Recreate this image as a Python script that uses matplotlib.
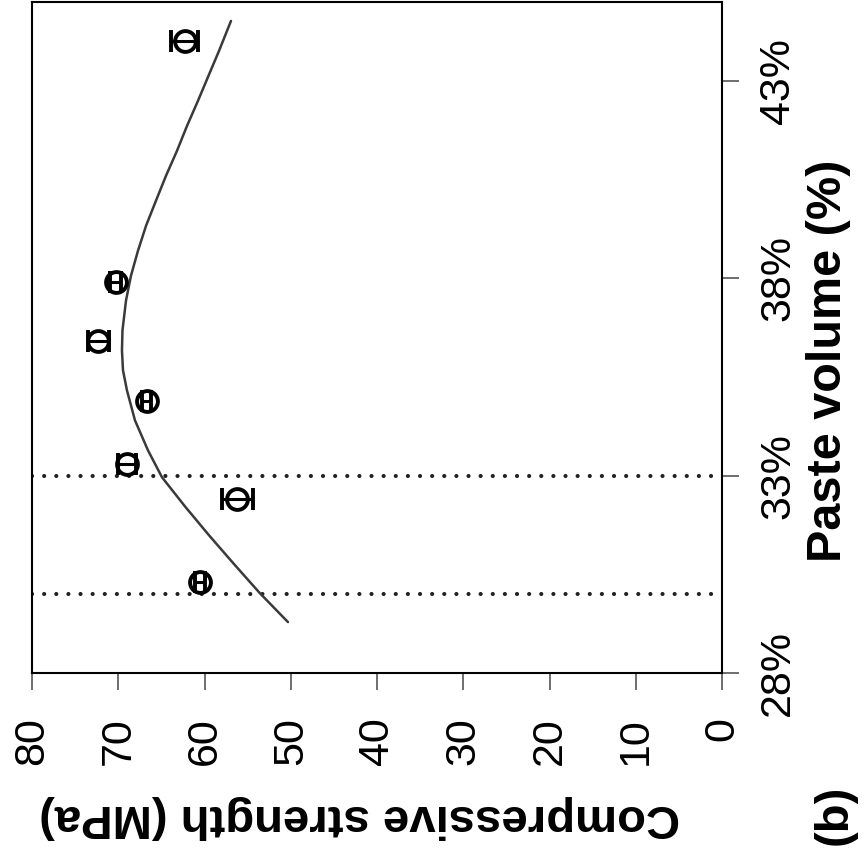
import matplotlib
matplotlib.use('Agg')
import matplotlib.pyplot as plt

plt.rcParams['font.family'] = ['Liberation Sans', 'DejaVu Sans']

# measured mixes: paste volume (%) vs compressive strength (MPa)
paste = [30.3, 32.4, 33.3, 34.9, 36.4, 37.9, 44.0]
strength = [60.5, 56.2, 69.0, 66.7, 72.3, 70.3, 62.3]
strength_err = [0.6, 1.8, 1.0, 0.5, 1.2, 0.6, 1.6]

# fitted trend
fit_paste = [29.29, 30.02, 30.76, 31.49, 32.22, 32.96, 33.64, 34.40, 35.16, 35.67,
             36.17, 36.68, 37.44, 38.07, 38.70, 39.33, 39.97, 40.60, 41.23, 41.86,
             42.50, 43.13, 43.76, 44.52]
fit_strength = [50.32, 53.57, 56.58, 59.48, 62.26, 64.93, 66.55, 68.06, 68.99, 69.45,
                69.57, 69.51, 69.10, 68.52, 67.71, 66.78, 65.62, 64.46, 63.19, 62.03,
                60.75, 59.54, 58.32, 56.93]

# reference paste volumes
ref_lines = [30, 33]

strength_ticks = [0, 10, 20, 30, 40, 50, 60, 70, 80]
paste_ticks = [28, 33, 38, 43]

fig = plt.figure(figsize=(8.67, 8.61), dpi=100)
ax = fig.add_axes([32 / 867, 188 / 861, 690 / 867, 671 / 861])

for p in ref_lines:
    ax.axhline(p, color='#222222', lw=3.0, ls=(0, (0.01, 2.9)), dash_capstyle='round')

ax.plot(fit_strength, fit_paste, color='#3a3a3a', lw=1.8, solid_capstyle='round')

ax.errorbar(strength, paste, xerr=strength_err, fmt='o', mfc='none', mec='black',
            ms=15, mew=2.8, ecolor='black', elinewidth=2.2, capsize=8, capthick=3)

ax.set_xlim(80, 0)
ax.set_ylim(28, 45)
ax.set_xticks(strength_ticks)
ax.set_xticklabels([str(v) for v in strength_ticks])
ax.set_yticks(paste_ticks)
ax.set_yticklabels([f'{v}%' for v in paste_ticks])
ax.yaxis.tick_right()

for s in ax.spines.values():
    s.set_linewidth(1.5)

ax.tick_params(axis='x', length=12, width=1.2, color='#555555', labelsize=31,
               labelrotation=90, pad=20)
ax.tick_params(axis='y', length=12, width=1.2, color='#555555', labelsize=31,
               labelrotation=90, pad=14)
for lab in ax.get_yticklabels():
    lab.set_verticalalignment('center')

ax.set_xlabel('Compressive strength (MPa)', fontsize=34, fontweight='bold', rotation=180)
ax.xaxis.set_label_coords(0.475, -0.215)
ax.xaxis.label.set_verticalalignment('center')

ax.yaxis.set_label_position('right')
ax.set_ylabel('Paste volume (%)', fontsize=35, fontweight='bold', rotation=90)
ax.yaxis.set_label_coords(1.154, 0.465)
ax.yaxis.label.set_verticalalignment('center')

fig.text(835 / 867, 1 - 815 / 861, '(b)', fontsize=34, fontweight='bold',
         rotation=90, ha='center', va='center')

fig.savefig('out.png', dpi=100)
